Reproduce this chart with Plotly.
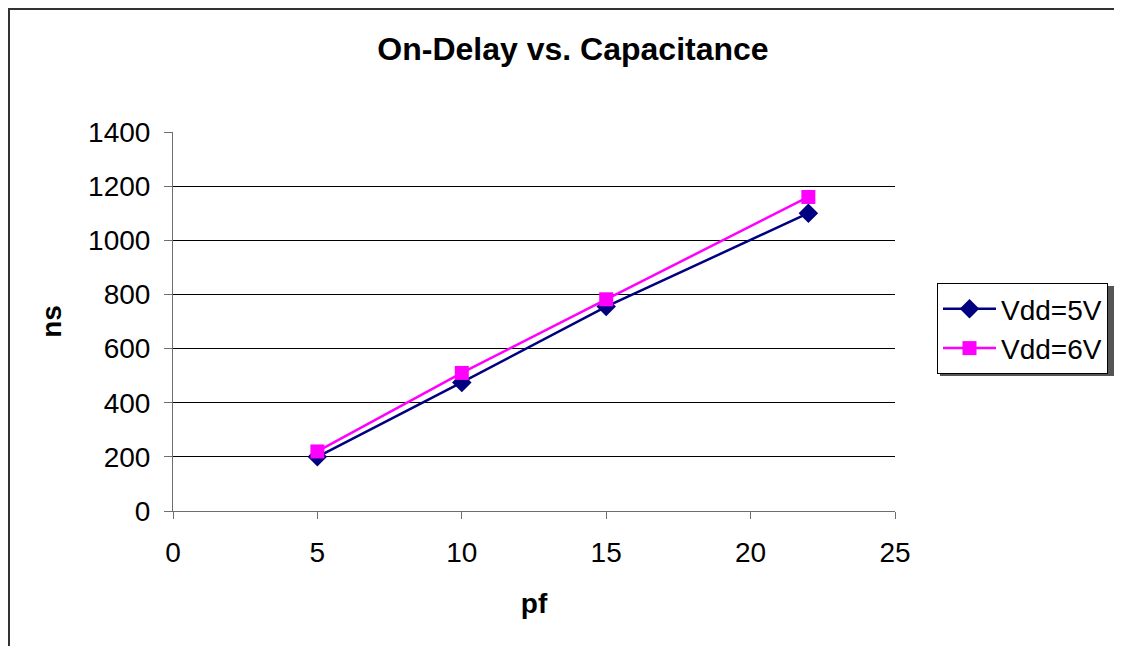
import plotly.graph_objects as go

pf = [5, 10, 15, 22]
vdd5 = [200, 475, 755, 1100]
vdd6 = [220, 510, 782, 1160]
x_ticks = [0, 5, 10, 15, 20, 25]
y_ticks = [0, 200, 400, 600, 800, 1000, 1200, 1400]

FONT = "Liberation Sans, Arial, sans-serif"
OFF = 8  # page offset of the figure inside the browser window

fig = go.Figure()
fig.add_trace(go.Scatter(
    x=pf, y=vdd5, name="Vdd=5V", mode="lines+markers",
    line=dict(color="#000080", width=2.5),
    marker=dict(symbol="diamond", size=15, color="#000080"),
))
fig.add_trace(go.Scatter(
    x=pf, y=vdd6, name="Vdd=6V", mode="lines+markers",
    line=dict(color="#FF00FF", width=2.5),
    marker=dict(symbol="square", size=14, color="#FF00FF"),
))

# plot area in page pixels (reference), converted to figure pixels
L, T, R, B = 173 - OFF, 132 - OFF, 895 - OFF, 511 - OFF
W, H = 1122, 646

def px(xp):
    return (xp - OFF - L) / (R - L)

def py(yp):
    return (B - (yp - OFF)) / (B - T)

fig.update_layout(
    width=W, height=H,
    margin=dict(l=L, r=W - R, t=T, b=H - B),
    paper_bgcolor="white", plot_bgcolor="white",
    font=dict(family=FONT, size=28, color="black"),
    title=dict(text="<b>On-Delay vs. Capacitance</b>", xref="container",
               x=(573 - OFF) / W, xanchor="center", yref="container",
               y=1 - (49 - OFF) / H, yanchor="middle",
               font=dict(size=32, family=FONT, color="black")),
    showlegend=True,
    legend=dict(x=px(937), y=py(283), xanchor="left", yanchor="top",
                bordercolor="black", borderwidth=1, bgcolor="white",
                font=dict(size=28, family=FONT), itemwidth=53,
                tracegroupgap=0),
    xaxis=dict(range=[0, 25], tickvals=x_ticks, showgrid=False,
               zeroline=False, showline=True, linecolor="#6e6e6e",
               linewidth=1, ticks="outside", ticklen=7, tickcolor="#6e6e6e",
               tickfont=dict(size=28), ticklabelstandoff=9,
               title=dict(text="<b>pf</b>", font=dict(size=28), standoff=26)),
    yaxis=dict(range=[0, 1400], tickvals=y_ticks, showgrid=True,
               gridcolor="black", gridwidth=1, zeroline=False,
               showline=True, linecolor="#6e6e6e", linewidth=1,
               ticks="outside", ticklen=8, tickcolor="#6e6e6e",
               tickfont=dict(size=28), ticklabelstandoff=8,
               title=dict(text="<b>ns</b>", font=dict(size=28), standoff=18)),
    shapes=[
        dict(type="rect", xref="paper", yref="paper",
             x0=px(9), x1=px(1140), y0=py(670), y1=py(9),
             line=dict(color="#333333", width=2), fillcolor="rgba(0,0,0,0)",
             layer="below"),
        dict(type="rect", xref="paper", yref="paper",
             x0=px(940), x1=px(1114), y0=py(376), y1=py(286),
             line=dict(width=0), fillcolor="#555555", layer="above"),
    ],
)

fig.write_html("out.html")
